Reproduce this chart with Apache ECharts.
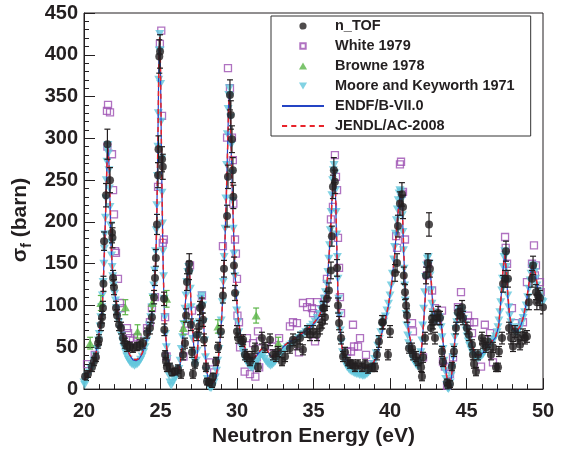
<!DOCTYPE html>
<html>
<head>
<meta charset="utf-8">
<script src="https://cdn.jsdelivr.net/npm/echarts@6/dist/echarts.min.js"></script>
<style>
  html, body { margin: 0; padding: 0; background: #fff; }
  #chart { width: 565px; height: 452px; }
</style>
</head>
<body>
<div id="chart"></div>
<script>
// Fission cross section, 20-50 eV

// x axis ticks (eV) and y axis ticks (barn)
const xTicks = { min: 20, max: 50, step: 5 };
const yTicks = { min: 0, max: 450, step: 50 };

// Evaluated curves: [energy (eV), sigma_f (barn)]
const endfCurve = [
  [20.0,12],[20.2,16],[20.4,22],[20.6,33],[20.8,45],[20.9,57],[21.0,70],[21.1,85],[21.2,100],[21.25,125],
  [21.3,150],[21.35,175],[21.4,205],[21.45,240],[21.5,270],[21.55,290],[21.6,285],[21.65,260],[21.7,225],
  [21.75,185],[21.8,160],[21.85,145],[21.9,130],[22.0,118],[22.1,105],[22.2,92],[22.3,82],[22.4,73],
  [22.6,58],[22.8,48],[23.0,40],[23.2,35],[23.4,34],[23.6,36],[23.8,42],[24.0,52],[24.2,65],[24.35,80],
  [24.5,100],[24.6,125],[24.7,160],[24.75,200],[24.8,260],[24.85,330],[24.9,405],[24.95,420],[25.0,380],
  [25.05,300],[25.1,230],[25.15,170],[25.2,125],[25.25,95],[25.3,72],[25.4,50],[25.5,35],[25.6,24],
  [25.8,18],[26.0,17],[26.2,22],[26.3,32],[26.4,50],[26.5,72],[26.6,95],[26.7,125],[26.8,145],[26.85,150],
  [26.9,140],[27.0,100],[27.1,70],[27.2,45],[27.3,32],[27.4,40],[27.5,70],[27.6,100],[27.7,112],[27.8,85],
  [27.9,50],[28.0,25],[28.1,14],[28.2,8],[28.4,6],[28.6,12],[28.7,22],[28.8,40],[28.9,60],[29.0,85],
  [29.1,120],[29.2,170],[29.3,230],[29.4,300],[29.45,340],[29.5,355],[29.55,340],[29.6,300],[29.7,230],
  [29.8,175],[29.9,130],[30.0,100],[30.1,80],[30.2,68],[30.4,55],[30.6,45],[30.8,38],[31.0,36],[31.2,38],
  [31.5,45],[31.7,50],[31.9,48],[32.1,42],[32.3,38],[32.5,40],[32.8,46],[33.0,50],[33.3,55],[33.6,58],
  [34.0,63],[34.4,68],[34.8,74],[35.1,80],[35.4,88],[35.6,97],[35.8,112],[35.9,130],[36.0,155],[36.1,185],
  [36.2,225],[36.3,258],[36.35,265],[36.4,255],[36.45,225],[36.5,185],[36.55,145],[36.6,110],[36.7,78],
  [36.8,58],[36.9,45],[37.1,36],[37.4,30],[37.8,28],[38.2,26],[38.6,26],[38.9,30],[39.1,38],[39.3,52],
  [39.5,70],[39.7,82],[39.9,100],[40.1,125],[40.3,160],[40.4,185],[40.5,208],[40.6,225],[40.7,232],
  [40.8,215],[40.85,190],[40.9,160],[41.0,120],[41.1,90],[41.2,70],[41.4,52],[41.6,42],[41.8,36],[42.0,38],
  [42.1,55],[42.2,80],[42.3,110],[42.4,140],[42.5,155],[42.6,150],[42.7,125],[42.8,100],[42.9,88],[43.0,85],
  [43.2,88],[43.3,85],[43.4,70],[43.5,50],[43.6,30],[43.7,15],[43.8,7],[43.9,5],[44.0,12],[44.1,28],
  [44.2,50],[44.3,70],[44.4,85],[44.5,95],[44.6,98],[44.7,95],[44.9,82],[45.1,68],[45.3,55],[45.5,45],
  [45.7,40],[45.9,40],[46.1,44],[46.3,50],[46.6,55],[46.9,62],[47.1,75],[47.2,95],[47.3,120],[47.4,145],
  [47.5,162],[47.55,160],[47.6,140],[47.7,110],[47.8,90],[47.9,78],[48.1,70],[48.3,69],[48.5,74],[48.7,84],
  [48.9,102],[49.0,115],[49.1,128],[49.2,140],[49.3,148],[49.35,150],[49.4,148],[49.5,138],[49.6,126],
  [49.7,116],[49.8,110],[49.9,106],[50.0,104]
];

const jendlCurve = [
  [20.0,11],[20.2,15],[20.4,21],[20.6,32],[20.8,44],[20.9,55],[21.0,68],[21.1,83],[21.2,98],[21.25,120],
  [21.3,146],[21.35,172],[21.4,200],[21.45,236],[21.5,268],[21.55,288],[21.6,286],[21.65,264],[21.7,230],
  [21.75,192],[21.8,164],[21.85,147],[21.9,132],[22.0,119],[22.1,106],[22.2,93],[22.3,83],[22.4,74],
  [22.6,59],[22.8,49],[23.0,41],[23.2,36],[23.4,35],[23.6,37],[23.8,43],[24.0,53],[24.2,66],[24.35,81],
  [24.5,101],[24.6,124],[24.7,158],[24.75,196],[24.8,255],[24.85,325],[24.9,400],[24.95,422],[25.0,385],
  [25.05,306],[25.1,236],[25.15,175],[25.2,128],[25.25,97],[25.3,74],[25.4,51],[25.5,36],[25.6,25],
  [25.8,19],[26.0,18],[26.2,23],[26.3,33],[26.4,50],[26.5,71],[26.6,94],[26.7,123],[26.8,144],[26.85,149],
  [26.9,141],[27.0,102],[27.1,72],[27.2,46],[27.3,33],[27.4,41],[27.5,70],[27.6,99],[27.7,111],[27.8,86],
  [27.9,51],[28.0,26],[28.1,15],[28.2,9],[28.4,7],[28.6,13],[28.7,23],[28.8,41],[28.9,61],[29.0,86],
  [29.1,121],[29.2,168],[29.3,228],[29.4,296],[29.45,336],[29.5,353],[29.55,342],[29.6,305],[29.7,236],
  [29.8,180],[29.9,134],[30.0,103],[30.1,82],[30.2,69],[30.4,56],[30.6,46],[30.8,39],[31.0,37],[31.2,39],
  [31.5,46],[31.7,50],[31.9,48],[32.1,43],[32.3,39],[32.5,41],[32.8,47],[33.0,51],[33.3,55],[33.6,59],
  [34.0,64],[34.4,69],[34.8,75],[35.1,81],[35.4,89],[35.6,98],[35.8,113],[35.9,131],[36.0,154],[36.1,183],
  [36.2,222],[36.3,255],[36.35,263],[36.4,256],[36.45,229],[36.5,190],[36.55,150],[36.6,114],[36.7,80],
  [36.8,59],[36.9,46],[37.1,37],[37.4,31],[37.8,28],[38.2,27],[38.6,27],[38.9,31],[39.1,39],[39.3,53],
  [39.5,70],[39.7,83],[39.9,101],[40.1,126],[40.3,158],[40.4,183],[40.5,206],[40.6,224],[40.7,233],
  [40.8,218],[40.85,194],[40.9,164],[41.0,123],[41.1,92],[41.2,71],[41.4,53],[41.6,43],[41.8,37],[42.0,39],
  [42.1,56],[42.2,80],[42.3,108],[42.4,138],[42.5,154],[42.6,151],[42.7,128],[42.8,102],[42.9,89],[43.0,86],
  [43.2,88],[43.3,86],[43.4,71],[43.5,51],[43.6,31],[43.7,16],[43.8,8],[43.9,6],[44.0,13],[44.1,29],
  [44.2,51],[44.3,70],[44.4,85],[44.5,94],[44.6,97],[44.7,95],[44.9,83],[45.1,69],[45.3,56],[45.5,46],
  [45.7,41],[45.9,41],[46.1,45],[46.3,50],[46.6,56],[46.9,63],[47.1,76],[47.2,96],[47.3,121],[47.4,146],
  [47.5,160],[47.55,161],[47.6,143],[47.7,114],[47.8,92],[47.9,79],[48.1,71],[48.3,70],[48.5,75],[48.7,85],
  [48.9,103],[49.0,116],[49.1,129],[49.2,141],[49.3,148],[49.35,149],[49.4,147],[49.5,139],[49.6,128],
  [49.7,118],[49.8,111],[49.9,107],[50.0,105]
];

// Moore and Keyworth 1971: [energy, sigma_f]
const mooreData = [
  [20.0,8],[20.05,5],[20.1,10],[20.15,14],[20.25,16],[20.35,20],[20.45,24],[20.55,28],[20.65,34],[20.75,40],
  [20.85,48],[20.95,58],[21.0,66],[21.05,75],[21.1,86],[21.15,98],[21.2,112],[21.25,128],[21.3,150],[21.33,168],
  [21.36,185],[21.4,205],[21.43,228],[21.46,250],[21.5,272],[21.53,286],[21.56,292],[21.6,282],[21.63,262],
  [21.66,240],[21.7,218],[21.73,196],[21.76,175],[21.8,160],[21.84,146],[21.88,135],[21.93,124],[22.0,114],
  [22.06,106],[22.12,97],[22.2,88],[22.28,80],[22.36,72],[22.44,64],[22.52,57],[22.6,50],[22.7,44],[22.8,39],
  [22.9,35],[23.0,32],[23.1,30],[23.2,29],[23.3,28],[23.4,29],[23.5,30],[23.6,32],[23.7,35],[23.8,39],
  [23.9,44],[24.0,50],[24.1,58],[24.2,66],[24.28,76],[24.36,86],[24.44,98],[24.5,110],[24.56,124],[24.62,142],
  [24.67,165],[24.72,190],[24.76,220],[24.8,255],[24.83,290],[24.86,330],[24.89,370],[24.92,405],[24.95,425],
  [24.98,405],[25.01,365],[25.04,320],[25.07,275],[25.1,235],[25.13,198],[25.16,165],[25.2,135],[25.24,108],
  [25.28,86],[25.33,66],[25.38,50],[25.44,36],[25.5,26],[25.56,16],[25.62,8],[25.7,4],[25.8,8],[25.9,12],
  [26.0,14],[26.1,18],[26.2,24],[26.28,34],[26.36,48],[26.44,62],[26.52,78],[26.6,96],[26.66,112],[26.72,128],
  [26.78,140],[26.84,146],[26.9,138],[26.95,120],[27.0,98],[27.05,78],[27.1,60],[27.15,45],[27.2,34],[27.27,28],
  [27.34,34],[27.4,46],[27.46,62],[27.52,80],[27.58,96],[27.64,108],[27.7,112],[27.76,100],[27.82,80],[27.88,58],
  [27.94,38],[28.0,22],[28.06,12],[28.12,6],[28.2,2],[28.3,1],[28.4,3],[28.5,8],[28.58,14],[28.66,22],[28.74,34],
  [28.82,48],[28.9,64],[28.97,82],[29.04,104],[29.1,128],[29.16,158],[29.22,192],[29.27,228],[29.32,268],
  [29.37,305],[29.42,335],[29.46,352],[29.5,360],[29.54,350],[29.58,325],[29.62,292],[29.66,258],[29.7,225],
  [29.75,192],[29.8,162],[29.86,135],[29.92,112],[29.98,94],[30.05,80],[30.12,68],[30.2,58],[30.3,50],[30.4,44],
  [30.5,38],[30.6,34],[30.7,30],[30.8,28],[30.9,26],[31.0,25],[31.1,27],[31.2,30],[31.3,33],[31.4,36],[31.5,40],
  [31.6,42],[31.7,40],[31.8,36],[31.9,33],[32.0,31],[32.1,29],[32.2,28],[32.3,29],[32.4,31],[32.5,33],[32.6,36],
  [32.7,38],[32.8,41],[32.9,43],[33.0,45],[33.15,48],[33.3,50],[33.45,52],[33.6,54],[33.75,57],[33.9,59],
  [34.05,61],[34.2,64],[34.35,66],[34.5,68],[34.65,71],[34.8,74],[34.95,77],[35.1,81],[35.25,85],[35.4,90],
  [35.5,95],[35.6,101],[35.7,108],[35.78,116],[35.86,126],[35.94,140],[36.0,156],[36.05,172],[36.1,190],
  [36.15,212],[36.2,232],[36.25,250],[36.3,262],[36.35,268],[36.4,258],[36.44,238],[36.48,212],[36.52,185],
  [36.56,158],[36.6,132],[36.65,108],[36.7,88],[36.76,70],[36.82,56],[36.9,44],[37.0,36],[37.1,30],[37.2,26],
  [37.3,24],[37.4,22],[37.5,21],[37.6,20],[37.7,19],[37.8,18],[37.9,18],[38.0,17],[38.1,17],[38.2,16],[38.3,16],
  [38.4,17],[38.5,18],[38.6,20],[38.7,22],[38.8,26],[38.9,30],[39.0,36],[39.1,43],[39.2,52],[39.3,60],[39.4,68],
  [39.5,75],[39.6,81],[39.7,87],[39.8,94],[39.9,102],[40.0,112],[40.08,124],[40.16,138],[40.24,155],[40.3,170],
  [40.36,186],[40.42,202],[40.48,215],[40.54,226],[40.6,234],[40.65,238],[40.7,236],[40.75,226],[40.8,208],
  [40.84,188],[40.88,166],[40.92,144],[40.96,124],[41.0,106],[41.05,90],[41.1,76],[41.16,64],[41.22,55],
  [41.3,47],[41.4,41],[41.5,36],[41.6,32],[41.7,29],[41.8,27],[41.9,28],[41.96,34],[42.02,44],[42.08,58],
  [42.14,76],[42.2,96],[42.26,116],[42.32,134],[42.38,148],[42.44,156],[42.5,158],[42.56,150],[42.62,136],
  [42.68,118],[42.74,102],[42.8,92],[42.86,86],[42.92,83],[43.0,82],[43.08,83],[43.16,85],[43.22,86],[43.28,82],
  [43.34,74],[43.4,62],[43.46,48],[43.52,34],[43.58,22],[43.64,12],[43.7,5],[43.76,1],[43.82,0],[43.88,2],
  [43.94,8],[44.0,16],[44.06,26],[44.12,38],[44.18,50],[44.24,62],[44.3,72],[44.36,80],[44.42,87],[44.48,92],
  [44.54,95],[44.6,96],[44.66,94],[44.72,90],[44.8,84],[44.88,77],[44.96,70],[45.04,63],[45.12,57],[45.2,52],
  [45.3,47],[45.4,43],[45.5,40],[45.6,38],[45.7,37],[45.8,37],[45.9,38],[46.0,40],[46.1,42],[46.2,45],[46.3,48],
  [46.4,50],[46.5,52],[46.6,55],[46.7,57],[46.8,60],[46.9,63],[47.0,68],[47.06,74],[47.12,82],[47.18,92],
  [47.24,104],[47.3,118],[47.35,132],[47.4,146],[47.45,158],[47.5,165],[47.55,160],[47.6,146],[47.65,128],
  [47.7,112],[47.76,98],[47.82,88],[47.9,80],[48.0,74],[48.1,70],[48.2,68],[48.3,68],[48.4,70],[48.5,74],
  [48.6,79],[48.7,85],[48.8,92],[48.9,100],[49.0,110],[49.08,120],[49.16,130],[49.22,138],[49.28,144],
  [49.34,148],[49.4,146],[49.46,140],[49.52,132],[49.6,124],[49.68,117],[49.76,112],[49.84,108],[49.92,105],
  [50.0,104]
];

// n_TOF: [energy, sigma_f, uncertainty]
const ntofData = [
  [20.07,15,4],[20.26,18,4],[20.52,26,5],[20.65,33,5],[20.78,38,5],[20.92,55,6],[20.98,59,6],[21.11,77,7],
  [21.18,86,7],[21.24,97,8],[21.27,126,9],[21.31,177,11],[21.44,232,14],[21.53,293,18],[21.7,250,15],
  [21.83,187,12],[21.86,181,12],[21.9,133,9],[21.96,122,9],[22.09,97,8],[22.16,88,7],[22.29,77,7],[22.42,73,7],
  [22.55,61,6],[22.68,55,6],[22.81,51,6],[23.0,51,5],[23.2,49,5],[23.46,51,5],[23.66,53,6],[23.86,55,6],
  [24.12,67,6],[24.31,73,7],[24.44,86,7],[24.58,110,8],[24.64,133,9],[24.7,157,10],[24.77,197,12],[24.84,256,15],
  [24.87,287,16],[24.92,398,20],[24.97,404,20],[25.1,275,15],[25.15,266,15],[25.23,108,8],[25.25,71,7],
  [25.3,41,5],[25.36,33,5],[25.42,26,5],[25.62,26,5],[25.75,20,4],[25.95,21,4],[26.14,24,5],[26.34,18,5],
  [26.47,41,6],[26.6,55,6],[26.67,88,8],[26.73,128,10],[26.86,142,11],[26.88,150,12],[26.99,77,7],[27.06,44,6],
  [27.12,18,5],[27.25,30,5],[27.38,65,7],[27.52,75,7],[27.58,97,8],[27.71,100,9],[27.78,83,8],[27.84,59,7],
  [27.97,26,5],[28.04,9,4],[28.17,8,4],[28.37,6,4],[28.43,15,4],[28.63,33,5],[28.76,50,6],[28.95,69,7],
  [29.08,112,9],[29.15,144,10],[29.35,207,13],[29.41,254,14],[29.54,352,18],[29.6,328,17],[29.67,299,16],
  [29.73,262,15],[29.76,230,14],[29.8,148,10],[29.87,115,9],[30.0,69,7],[30.07,61,6],[30.33,57,6],[30.4,59,6],
  [30.52,41,6],[30.65,39,6],[30.85,33,5],[30.98,39,6],[31.18,49,6],[31.37,26,5],[31.63,61,7],[31.83,50,6],
  [32.16,59,7],[32.35,41,6],[32.55,39,6],[32.68,45,6],[32.94,33,5],[33.14,39,6],[33.46,49,6],[33.66,59,7],
  [33.92,53,6],[34.12,61,7],[34.31,47,6],[34.58,69,7],[34.77,65,7],[34.97,69,7],[35.23,65,7],[35.42,73,7],
  [35.56,80,7],[35.62,97,8],[35.69,97,8],[35.75,86,8],[35.88,108,9],[36.01,118,9],[36.14,142,10],[36.2,183,12],
  [36.27,242,14],[36.33,262,15],[36.4,248,14],[36.54,145,10],[36.6,100,9],[36.67,79,8],[36.8,61,7],[36.93,39,6],
  [37.06,44,6],[37.25,33,5],[37.39,30,5],[37.58,30,5],[37.71,26,5],[37.91,30,5],[38.17,26,5],[38.37,30,5],
  [38.56,24,5],[38.82,26,5],[39.02,26,5],[39.15,41,6],[39.28,57,7],[39.48,80,8],[39.54,80,8],[39.87,41,6],
  [40.0,69,7],[40.33,139,10],[40.46,151,11],[40.52,195,13],[40.65,222,14],[40.78,233,14],[40.85,218,14],
  [40.9,136,10],[40.98,116,9],[41.05,100,8],[41.11,88,8],[41.24,49,6],[41.44,49,6],[41.5,41,6],[41.7,39,6],
  [41.83,33,5],[42.03,26,5],[42.09,15,5],[42.16,38,6],[42.29,61,7],[42.35,136,10],[42.48,151,11],[42.55,197,14],
  [42.61,144,10],[42.68,73,7],[42.75,85,8],[42.81,80,8],[42.94,61,7],[43.07,85,8],[43.14,91,8],[43.27,85,8],
  [43.4,45,6],[43.46,32,5],[43.73,8,4],[43.79,4,4],[43.92,6,4],[44.05,27,5],[44.18,45,6],[44.31,73,7],
  [44.44,92,8],[44.58,88,8],[44.71,98,8],[44.77,85,8],[45.03,73,7],[45.16,65,7],[45.36,53,6],[45.42,41,6],
  [45.49,30,5],[45.62,21,5],[45.75,41,6],[46.01,61,7],[46.08,55,6],[46.27,50,6],[46.4,57,7],[46.6,41,6],
  [46.73,50,6],[46.93,26,5],[47.06,26,5],[47.12,45,6],[47.32,61,7],[47.39,126,10],[47.52,132,10],[47.58,165,12],
  [47.71,132,10],[47.78,73,7],[47.91,61,7],[48.04,51,6],[48.17,69,7],[48.37,61,7],[48.5,53,6],[48.69,65,7],
  [48.82,61,7],[48.95,63,7],[49.08,104,9],[49.28,132,10],[49.35,148,11],[49.54,116,9],[49.6,104,9],
  [49.67,112,9],[49.8,109,9],[50.0,98,8]
];

// White 1979: [energy, sigma_f]
const whiteData = [
  [20.2,30],[20.7,41],[21.5,333],[21.53,290],[21.57,340],[21.7,331],[21.83,281],[21.9,238],[21.96,209],
  [22.03,165],[22.09,163],[22.22,132],[22.35,103],[22.48,97],[22.81,73],[22.88,67],[23.0,61],[23.2,58],
  [23.5,62],[24.12,73],[24.31,80],[24.44,97],[24.64,110],[24.84,242],[24.96,413],[25.05,429],[25.1,327],
  [25.15,175],[25.22,179],[25.3,86],[25.4,39],[26.5,39],[26.6,70],[26.93,148],[27.06,94],[27.71,112],
  [28.23,32],[28.5,20],[29.08,171],[29.35,301],[29.41,384],[29.54,360],[29.67,301],[29.73,274],[29.76,222],
  [29.87,179],[29.93,162],[30.0,132],[30.03,88],[30.13,80],[30.2,50],[30.5,21],[30.65,61],[30.85,18],
  [31.05,55],[31.2,15],[31.3,38],[31.37,69],[31.45,26],[31.5,57],[32.29,51],[32.75,61],[33.46,75],[33.66,80],
  [33.92,79],[34.05,44],[34.31,103],[34.58,98],[34.77,104],[34.9,97],[34.97,91],[35.1,57],[35.23,104],
  [35.29,88],[35.75,108],[35.88,132],[36.14,203],[36.27,218],[36.4,280],[36.47,254],[36.54,238],[36.6,181],
  [36.67,145],[36.73,110],[36.8,91],[37.2,45],[37.45,45],[37.58,77],[37.65,51],[37.91,51],[38.04,61],
  [38.43,41],[38.6,30],[40.4,183],[40.46,169],[40.65,269],[40.72,272],[40.78,234],[40.85,236],[40.98,179],
  [41.44,79],[41.5,69],[42.16,38],[42.42,136],[42.48,150],[42.75,118],[42.94,97],[43.14,83],[43.4,94],
  [43.46,33],[43.59,27],[43.73,4],[43.92,18],[44.12,38],[44.44,98],[44.64,116],[45.1,88],[45.2,80],
  [45.36,67],[45.5,80],[45.95,27],[46.2,77],[46.54,67],[46.73,32],[47.52,182],[47.56,169],[47.65,150],
  [47.97,97],[48.17,79],[48.69,80],[48.95,128],[49.28,150],[49.41,172],[49.47,136],[49.54,148],[49.8,128],
  [49.85,116]
];

// Browne 1978: [energy, sigma_f, uncertainty]
const browneData = [
  [20.4,55,7],[21.1,103,9],[22.7,98,9],[23.5,69,8],[24.45,103,9],[25.4,108,10],[26.5,73,8],
  [28.75,75,8],[31.25,88,9],[32.7,55,7]
];

const FONT = 'Liberation Sans, Arial, Helvetica, sans-serif';
const INK = '#231f20';
const COLORS = {
  ntof: '#231f20',
  white: '#9c4fb2',
  browne: '#5bb548',
  moore: '#63c7dc',
  endf: '#2444c4',
  jendl: '#e8232a'
};

// Vertical error bars with small caps, positioned through the axis scales
function errorBars(name, data, color, z) {
  return {
    type: 'custom',
    name: name,
    data: data,
    z: z,
    silent: true,
    clip: true,
    encode: { x: 0, y: 1 },
    renderItem: function (params, api) {
      const e = api.value(0), v = api.value(1), d = api.value(2);
      const top = api.coord([e, v + d]);
      const bot = api.coord([e, v - d]);
      const cap = 3;
      const st = { stroke: color, lineWidth: 1.2 };
      return {
        type: 'group',
        children: [
          { type: 'line', shape: { x1: top[0], y1: top[1], x2: bot[0], y2: bot[1] }, style: st },
          { type: 'line', shape: { x1: top[0] - cap, y1: top[1], x2: top[0] + cap, y2: top[1] }, style: st },
          { type: 'line', shape: { x1: bot[0] - cap, y1: bot[1], x2: bot[0] + cap, y2: bot[1] }, style: st }
        ]
      };
    }
  };
}

const chart = echarts.init(document.getElementById('chart'), null, { renderer: 'canvas' });

// Legend keys; the leading moveTo points pad each marker's box so it keeps its size
const dotIcon = 'path://M-1,-1M9,9M4,0A4,4,0,1,1,3.99,0Z';
const squareIcon = 'path://M-1,-1M9,9M1,1H7V7H1Z';
const upIcon = 'path://M-1,-1M9,9M4,0L8.5,8H-0.5Z';
const downIcon = 'path://M-1,-1M9,9M-0.5,0H8.5L4,8Z';
const solidIcon = 'path://M0,0H42V2H0Z';
const dashIcon = 'path://M0,0H5V2H0Z M9,0H14V2H9Z M18,0H23V2H18Z M27,0H32V2H27Z M36,0H41V2H36Z';

chart.setOption({
  animation: false,
  backgroundColor: '#ffffff',
  grid: {
    left: 84, right: 22, top: 13, bottom: 57,
    show: true, borderColor: INK, borderWidth: 1, backgroundColor: 'transparent'
  },
  legend: {
    orient: 'vertical',
    left: 271, top: 16,
    padding: [1, 16, 1, 11],
    itemWidth: 42, itemHeight: 9, itemGap: 2,
    symbolRotate: 0,
    backgroundColor: '#fff',
    borderColor: '#333', borderWidth: 1,
    textStyle: {
      fontFamily: FONT, fontWeight: 'bold', fontSize: 14.5, color: INK,
      lineHeight: 18, padding: [0, 0, 0, 6]
    },
    selectedMode: false,
    data: [
      { name: 'n_TOF', icon: dotIcon },
      { name: 'White 1979', icon: squareIcon },
      { name: 'Browne 1978', icon: upIcon },
      { name: 'Moore and Keyworth 1971', icon: downIcon },
      { name: 'ENDF/B-VII.0', icon: solidIcon },
      { name: 'JENDL/AC-2008', icon: dashIcon }
    ]
  },
  xAxis: {
    type: 'value',
    min: xTicks.min, max: xTicks.max, interval: xTicks.step,
    name: 'Neutron Energy (eV)',
    nameLocation: 'middle', nameGap: 32,
    nameTextStyle: { fontFamily: FONT, fontWeight: 'bold', fontSize: 21, color: INK },
    axisLine: { show: true, lineStyle: { color: INK, width: 1 } },
    axisTick: { show: true, inside: true, length: 11, lineStyle: { color: INK, width: 1 } },
    minorTick: { show: true, splitNumber: 5, length: 5, lineStyle: { color: INK, width: 1 } },
    axisLabel: { fontFamily: FONT, fontWeight: 'bold', fontSize: 20, color: INK, margin: 12 },
    splitLine: { show: false }
  },
  yAxis: {
    type: 'value',
    min: yTicks.min, max: yTicks.max, interval: yTicks.step,
    name: '{a|σ}{b|f}{a| (barn)}',
    nameLocation: 'middle', nameGap: 41, nameRotate: 90,
    nameTextStyle: {
      color: INK,
      padding: [0, 38, 0, 0],
      rich: {
        a: { fontFamily: FONT, fontWeight: 'bold', fontSize: 21, color: INK, lineHeight: 28, verticalAlign: 'middle' },
        b: { fontFamily: FONT, fontWeight: 'bold', fontSize: 14, color: INK, lineHeight: 14, verticalAlign: 'bottom' }
      }
    },
    axisLine: { show: true, lineStyle: { color: INK, width: 1 } },
    axisTick: { show: true, inside: true, length: 11, lineStyle: { color: INK, width: 1 } },
    minorTick: { show: true, splitNumber: 5, length: 5, lineStyle: { color: INK, width: 1 } },
    axisLabel: { fontFamily: FONT, fontWeight: 'bold', fontSize: 20, color: INK, margin: 6 },
    splitLine: { show: false }
  },
  series: [
    {
      name: 'White 1979', type: 'scatter', data: whiteData, z: 2,
      symbol: 'rect', symbolSize: 7,
      itemStyle: { color: 'rgba(255,255,255,0)', borderColor: COLORS.white, borderWidth: 1.3 }
    },
    {
      name: 'Moore and Keyworth 1971', type: 'scatter', data: mooreData, z: 3,
      symbol: 'triangle', symbolRotate: 180, symbolSize: [9, 8],
      itemStyle: { color: COLORS.moore }
    },
    {
      name: 'ENDF/B-VII.0', type: 'line', data: endfCurve, z: 4,
      showSymbol: false, symbol: 'none',
      color: COLORS.endf,
      lineStyle: { color: COLORS.endf, width: 1.2 }
    },
    {
      name: 'JENDL/AC-2008', type: 'line', data: jendlCurve, z: 5,
      showSymbol: false, symbol: 'none',
      color: COLORS.jendl,
      lineStyle: { color: COLORS.jendl, width: 1.5, type: [5, 4] }
    },
    errorBars('browne-err', browneData, COLORS.browne, 6),
    {
      name: 'Browne 1978', type: 'scatter', data: browneData, z: 7,
      symbol: 'triangle', symbolSize: [9, 8],
      itemStyle: { color: COLORS.browne }
    },
    errorBars('ntof-err', ntofData, COLORS.ntof, 8),
    {
      name: 'n_TOF', type: 'scatter', data: ntofData, z: 9,
      symbol: 'circle', symbolSize: 8,
      itemStyle: { color: COLORS.ntof }
    }
  ]
});
</script>
</body>
</html>
